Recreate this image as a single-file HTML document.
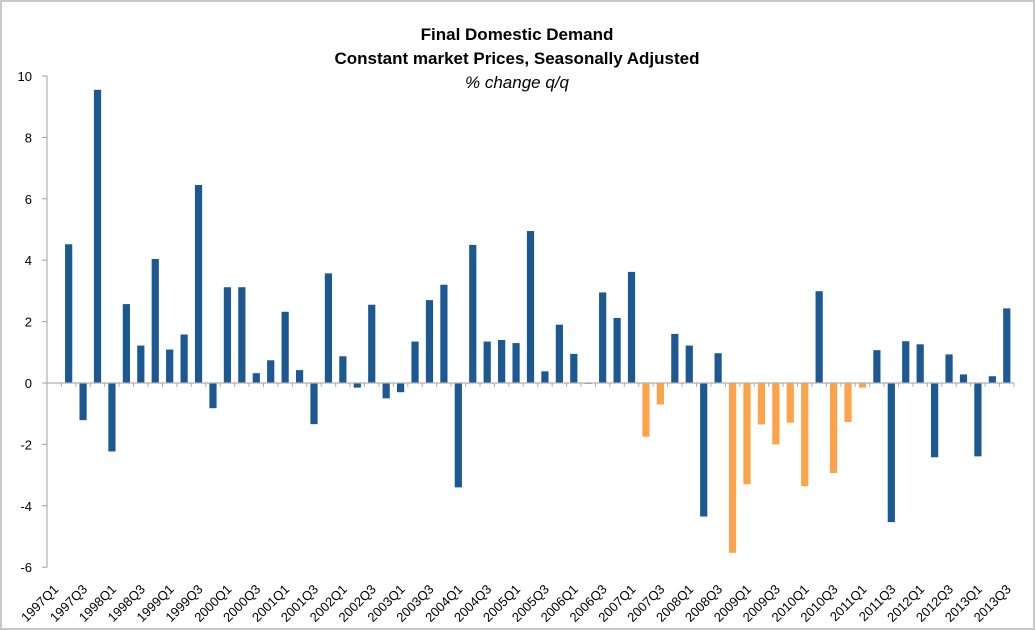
<!DOCTYPE html>
<html><head><meta charset="utf-8">
<style>
html,body{margin:0;padding:0;background:#fff;}
#wrap{position:relative;width:1035px;height:630px;box-sizing:border-box;border:2px solid #c8c8c8;background:#fff;}
svg{position:absolute;left:-2px;top:-2px;}
text{font-family:"Liberation Sans",sans-serif;}
</style></head>
<body>
<div id="wrap">
<svg id="chart" width="1035" height="630">
  <text x="517" y="40" text-anchor="middle" font-size="17" font-weight="bold" fill="#000">Final Domestic Demand</text>
  <text x="517" y="64" text-anchor="middle" font-size="17" font-weight="bold" fill="#000">Constant market Prices, Seasonally Adjusted</text>
  <text x="517" y="88" text-anchor="middle" font-size="17" font-style="italic" fill="#000">% change q/q</text>
</svg>
</div>
<script>
const categories = [];
for (let y = 1997; y <= 2013; y++) for (let q = 1; q <= 4; q++) { if (y === 2013 && q === 4) break; categories.push(y + 'Q' + q); }
const values = [null,4.52,-1.21,9.55,-2.23,2.57,1.22,4.04,1.09,1.58,6.45,-0.82,3.12,3.12,0.32,0.74,2.32,0.42,-1.34,3.57,0.87,
-0.15,2.55,-0.5,-0.3,1.35,2.7,3.2,-3.4,4.5,1.35,1.4,1.3,4.95,0.38,1.9,0.95,-0.02,2.95,2.12,3.62,-1.75,-0.7,1.6,1.22,-4.35,0.97,
-5.53,-3.3,-1.35,-2.0,-1.29,-3.36,2.99,-2.93,-1.27,-0.15,1.07,-4.53,1.36,1.26,-2.42,0.93,0.28,-2.39,0.22,2.43];
const highlighted = [41,42,47,48,49,50,51,52,54,55,56];
const yTicks = [10,8,6,4,2,0,-2,-4,-6];

const svg = document.getElementById('chart');
const NS = 'http://www.w3.org/2000/svg';
const X0 = 47, X1 = 1014, Y10 = 76, Y0 = 383;
const unit = (Y0 - Y10) / 10;
const bw = (X1 - X0) / categories.length;
const yScale = v => Y0 - v * unit;
const xCenter = i => X0 + bw * (i + 0.5);
function mk(tag, attrs) { const e = document.createElementNS(NS, tag); for (const k in attrs) e.setAttribute(k, attrs[k]); svg.appendChild(e); return e; }

let ax = mk('line', {x1: X0, y1: yScale(10), x2: X0, y2: yScale(-6), stroke: '#a0a0a0', 'stroke-width': 1});


yTicks.forEach(t => {
  const y = yScale(t);
  const tk = mk('line', {x1: X0 - 5, y1: y, x2: X0, y2: y, stroke: '#a0a0a0'});
  
  
  const lb = mk('text', {x: 32, y: y + 5, 'text-anchor': 'end', 'font-size': 13, fill: '#000'});
  lb.textContent = t;
  
  
});

values.forEach((v, i) => {
  if (v === null) return;
  const x = xCenter(i) - 3.6;
  const y = v >= 0 ? yScale(v) : Y0;
  const h = Math.abs(yScale(v) - Y0);
  const r = mk('rect', {x: x, y: y, width: 7.2, height: Math.max(h, 0.8), fill: highlighted.includes(i) ? '#fda44b' : '#1c5892'});
  
  
});

let xa = mk('line', {x1: X0, y1: Y0, x2: X1, y2: Y0, stroke: '#b0b0b0', 'stroke-width': 1.2});


categories.forEach((c, i) => {
  const xt = X0 + bw * (i + 1);
  const tk = mk('line', {x1: xt, y1: Y0, x2: xt, y2: Y0 + 4, stroke: '#b0b0b0'});
  
  
  if (i % 2 === 0) {
    const cx = xCenter(i) + 5, cy = 590;
    const lb = mk('text', {x: cx, y: cy, 'text-anchor': 'end', 'font-size': 13, fill: '#000', transform: 'rotate(-45 ' + cx + ' ' + cy + ')'});
    lb.textContent = c;
    
    
  }
});
</script>
</body></html>
